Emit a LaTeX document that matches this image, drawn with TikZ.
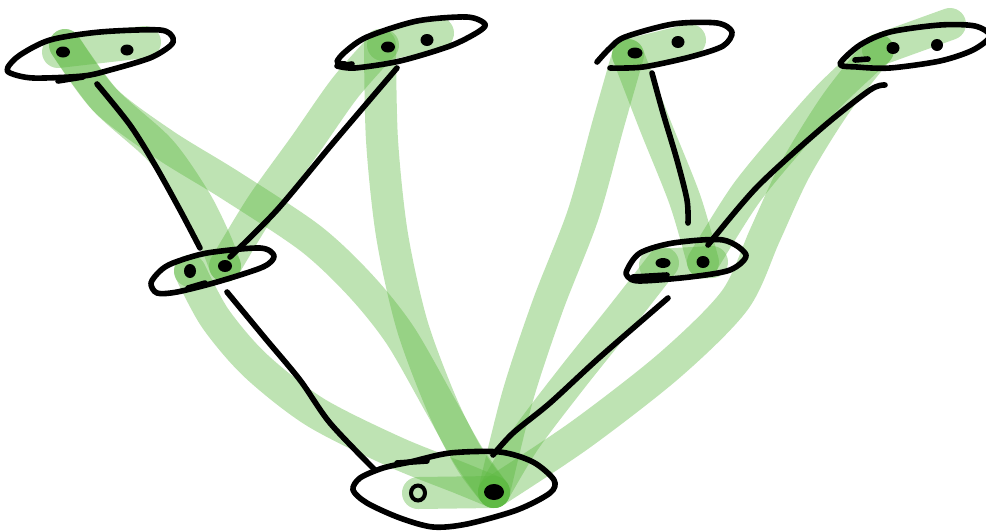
\documentclass[tikz,border=0pt]{standalone}
\definecolor{bandgreen}{RGB}{92,184,64}
\begin{document}
\begin{tikzpicture}[x=1pt,y=-1pt,
  band/.style={line width=32pt, draw=bandgreen, draw opacity=0.4, line cap=round, line join=round},
  ink/.style={line width=5.6pt, line cap=round, line join=round},
  dotmark/.style={fill=black}]
\useasboundingbox (0,0) rectangle (986,531);
% dot positions
\coordinate (a1) at (63,52);  \coordinate (a2) at (127,50);
\coordinate (c1) at (388,47); \coordinate (c2) at (427,40);
\coordinate (d1) at (635,53); \coordinate (d2) at (678,42);
\coordinate (f1) at (893,48); \coordinate (f2) at (937,45);
\coordinate (b1) at (190,271);\coordinate (b2) at (225,266);
\coordinate (e1) at (663,263);\coordinate (e2) at (703,262);
\coordinate (g1) at (418,493);\coordinate (g2) at (494,492);
% green bands
\draw[band] (58,52) -- (145,42);
\draw[band] plot[smooth] coordinates {(65,45) (105,100) (165,145) (230,185) (310,238) (360,285) (400,335) (440,405) (468,455) (g2)};
\draw[band] plot[smooth] coordinates {(65,45) (105,100) (160,150) (195,200) (215,240) (b2)};
\draw[band] (b1) -- (b2);
\draw[band] plot[smooth] coordinates {(b2) (262,205) (305,145) (345,88) (383,45)};
\draw[band] (383,45) -- (438,33);
\draw[band] plot[smooth] coordinates {(380,45) (382,140) (392,235) (412,325) (442,405) (470,460) (g2)};
\draw[band] plot[smooth] coordinates {(b1) (215,318) (255,365) (315,412) (395,452) (460,478) (g2)};
\draw[band] (g1) -- (g2);
\draw[band] (628,55) -- (690,40);
\draw[band] plot[smooth] coordinates {(628,55) (608,125) (583,215) (548,305) (518,395) (g2)};
\draw[band] plot[smooth] coordinates {(628,55) (655,125) (685,200) (e2)};
\draw[band] (655,265) -- (712,262);
\draw[band] (878,50) -- (950,24);
\draw[band] plot[smooth] coordinates {(878,50) (830,95) (790,140) (745,195) (e2)};
\draw[band] plot[smooth] coordinates {(878,50) (835,105) (795,170) (765,235) (735,300) (670,365) (580,435) (g2)};
\draw[band] plot[smooth] coordinates {(e1) (620,318) (572,378) (525,440) (g2)};
% ellipses
\draw[ink] plot[smooth cycle] coordinates {(8,67) (20,55) (50,40) (100,32) (160,30) (173,38) (170,46) (150,58) (110,70) (83,76) (33,78) (10,73)};
\draw[ink] (58,81) -- (83,77);
\draw[ink] plot[smooth] coordinates {(345,64) (337,62) (345,52) (367,37) (417,21) (467,17) (485,24) (478,32) (450,46) (400,61) (355,68) (337,66)};
\draw[ink] (340,66) -- (352,64);
\draw[ink] plot[smooth] coordinates {(597,62) (610,48) (625,37) (673,24) (717,23) (732,32) (723,46) (690,57) (643,67) (610,68)};
\draw[ink] plot[smooth cycle] coordinates {(840,64) (860,45) (890,32) (940,25) (975,26) (990,36) (973,50) (940,61) (890,68) (857,67)};
\draw[ink] (855,60) -- (868,59);
\draw[ink] plot[smooth cycle] coordinates {(151,283) (160,271) (173,263) (207,253) (260,248) (274,256) (263,267) (217,282) (177,292) (157,293)};
\draw[ink] (188,288) -- (205,283);
\draw[ink] plot[smooth cycle] coordinates {(627,270) (640,253) (673,243) (723,240) (746,255) (730,270) (690,277) (640,281) (628,277)};
\draw[ink] (633,277) -- (667,275);
\draw[ink] plot[smooth cycle] coordinates {(410,462) (450,453) (500,452) (533,462) (554,480) (550,493) (517,510) (467,524) (433,527) (400,518) (367,503) (353,490) (360,478) (383,468)};
\draw[ink] (397,463) -- (427,461);
% tree edges
\draw[ink] plot[smooth] coordinates {(97,84) (130,125) (155,165) (180,210) (200,248)};
\draw[ink] plot[smooth] coordinates {(397,68) (333,143) (277,210) (230,257)};
\draw[ink] plot[smooth] coordinates {(652,73) (663,113) (677,160) (687,200) (688,223)};
\draw[ink] plot[smooth] coordinates {(885,85) (870,90) (823,127) (757,187) (708,245)};
\draw[ink] plot[smooth] coordinates {(227,292) (265,338) (300,380) (330,423) (375,470)};
\draw[ink] plot[smooth] coordinates {(668,298) (600,357) (550,403) (513,433) (493,455)};
% dots
\fill[dotmark] (a1) ellipse [x radius=7, y radius=5.5];
\fill[dotmark] (a2) ellipse [x radius=6.5, y radius=5.5];
\fill[dotmark] (c1) ellipse [x radius=7, y radius=5.5];
\fill[dotmark] (c2) ellipse [x radius=6.5, y radius=6];
\fill[dotmark] (d1) ellipse [x radius=7.5, y radius=5.5];
\fill[dotmark] (d2) ellipse [x radius=6.5, y radius=6];
\fill[dotmark] (f1) ellipse [x radius=6.5, y radius=6];
\fill[dotmark] (f2) ellipse [x radius=6, y radius=6];
\fill[dotmark] (b1) ellipse [x radius=6, y radius=7];
\fill[dotmark] (b2) ellipse [x radius=7, y radius=6];
\fill[dotmark] (e1) ellipse [x radius=7.5, y radius=5];
\fill[dotmark] (e2) ellipse [x radius=6.5, y radius=6];
\draw[line width=4pt] (g1) ellipse [x radius=7, y radius=7.5];
\fill[dotmark] (g2) ellipse [x radius=10, y radius=8];
\end{tikzpicture}
\end{document}
